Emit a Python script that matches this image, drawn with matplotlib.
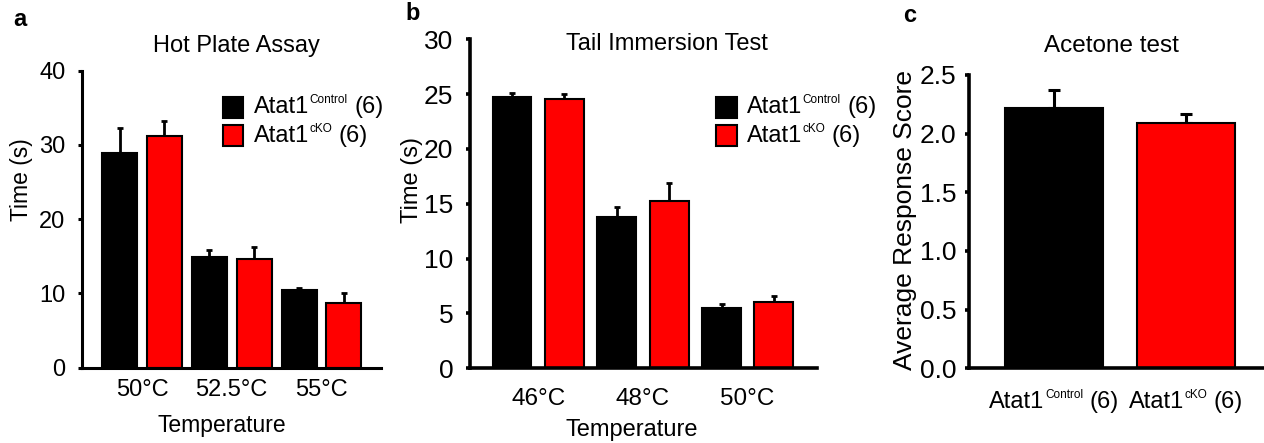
import numpy as np
import matplotlib.pyplot as plt
from matplotlib.patches import Rectangle

plt.rcParams["font.family"] = ["Liberation Sans", "DejaVu Sans"]

# panel a - hot plate
hot_temps = ["50°C", "52.5°C", "55°C"]
hot_ctrl = [28.9, 14.95, 10.5]
hot_ctrl_err = [3.4, 0.85, 0.3]
hot_cko = [31.2, 14.7, 8.75]
hot_cko_err = [2.0, 1.6, 1.25]

# panel b - tail immersion
tail_temps = ["46°C", "48°C", "50°C"]
tail_ctrl = [24.7, 13.8, 5.47]
tail_ctrl_err = [0.4, 0.9, 0.35]
tail_cko = [24.6, 15.3, 6.07]
tail_cko_err = [0.45, 1.6, 0.55]

# panel c - acetone
acetone_mean = [2.22, 2.09]
acetone_err = [0.15, 0.08]

groups = [("Atat1", "Control", "(6)"), ("Atat1", "cKO", "(6)")]
colors = ["black", "#ff0000"]

W, H = 1264, 443
fig = plt.figure(figsize=(W / 100, H / 100), dpi=100)


def px_axes(left, right, top, bottom):
    return fig.add_axes([left / W, 1 - bottom / H, (right - left) / W, (bottom - top) / H])


def sup_text(ax, x, y, base, sup, tail, size, trans):
    t1 = ax.annotate(base, xy=(x, y), xycoords=trans, xytext=(0, 0),
                     textcoords="offset pixels", ha="left", va="baseline",
                     fontsize=size, annotation_clip=False)
    t2 = ax.annotate(sup, xy=(1, 1), xycoords=t1, xytext=(0.5, 1.5),
                     textcoords="offset points", ha="left", va="top",
                     fontsize=size * 0.5, annotation_clip=False)
    t3 = ax.annotate(tail, xy=(1, 0), xycoords=(t2, t1), xytext=(4.5, 0),
                     textcoords="offset points", ha="left", va="bottom",
                     fontsize=size, annotation_clip=False)
    return t1, t3


def style_axes(ax, ytick_size, spine_w):
    for s in ["top", "right"]:
        ax.spines[s].set_visible(False)
    for s in ["left", "bottom"]:
        ax.spines[s].set_linewidth(spine_w)
    ax.tick_params(axis="y", direction="out", length=3, width=spine_w,
                   labelsize=ytick_size, pad=9)
    ax.tick_params(axis="x", length=0)


def grouped(ax, ctrl, ctrl_err, cko, cko_err, width, capsize):
    x = np.arange(len(ctrl))
    for off, vals, errs, col in [(-0.25, ctrl, ctrl_err, colors[0]),
                                 (0.25, cko, cko_err, colors[1])]:
        ax.bar(x + off, vals, width, color=col, edgecolor="black", linewidth=1.5, zorder=2)
        ax.errorbar(x + off, vals, yerr=[np.zeros(len(vals)), errs], fmt="none",
                    ecolor="black", elinewidth=2, capsize=capsize, capthick=2, zorder=1)
    return x


def legend(ax, x0, w, rows, text_x, baselines, size):
    for (y0, y1), (b, s, t), col, bl in zip(rows, groups, colors, baselines):
        ax.add_patch(Rectangle((x0, y0), w, y1 - y0, transform=ax.transAxes,
                               facecolor=col, edgecolor="black", linewidth=1.5,
                               clip_on=False))
        sup_text(ax, text_x, bl, b, s, t, size, ax.transAxes)


# ---- panel a
ax = px_axes(82, 381, 70.7, 367.7)
x = grouped(ax, hot_ctrl, hot_ctrl_err, hot_cko, hot_cko_err, 0.39, 2)
ax.set_xlim(-0.668, 2.663)
ax.set_ylim(0, 40)
ax.set_yticks([0, 10, 20, 30, 40])
ax.set_xticks(x)
ax.set_xticklabels(hot_temps, fontsize=17)
ax.tick_params(axis="x", pad=8)
style_axes(ax, 17, 2.2)
ax.set_title("Hot Plate Assay", x=0.518, y=1.063, va="baseline", fontsize=17, pad=0)
ax.set_xlabel("Temperature", fontsize=16.5)
ax.xaxis.set_label_coords(0.468, -0.193)
ax.xaxis.label.set_va("center")
ax.set_ylabel("Time (s)", fontsize=16.5)
ax.yaxis.set_label_coords(-0.204, 0.632)
ax.yaxis.label.set_va("center")
legend(ax, 0.4716, 0.0669, [(0.841, 0.9114), (0.7465, 0.8165)], 0.575,
       [0.856, 0.761], 17)
fig.text(20 / W, 1 - 20 / H, "a", fontsize=17, fontweight="bold", ha="center", va="center")

# ---- panel b
ax = px_axes(470, 817, 39.3, 368.3)
x = grouped(ax, tail_ctrl, tail_ctrl_err, tail_cko, tail_cko_err, 0.37, 2)
ax.set_xlim(-0.652, 2.662)
ax.set_ylim(0, 30)
ax.set_yticks([0, 5, 10, 15, 20, 25, 30])
ax.set_xticks(x)
ax.set_xticklabels(tail_temps, fontsize=17.5)
ax.tick_params(axis="x", pad=14)
style_axes(ax, 19, 2.6)
ax.set_title("Tail Immersion Test", x=0.568, y=0.9675, va="baseline", fontsize=17, pad=0)
ax.set_xlabel("Temperature", fontsize=17)
ax.xaxis.set_label_coords(0.467, -0.1875)
ax.xaxis.label.set_va("center")
ax.set_ylabel("Time (s)", fontsize=17)
ax.yaxis.set_label_coords(-0.167, 0.572)
ax.yaxis.label.set_va("center")
legend(ax, 0.709, 0.0605, [(0.761, 0.8246), (0.6757, 0.7396)], 0.798,
       [0.775, 0.689], 17)
fig.text(413 / W, 1 - 13 / H, "b", fontsize=17, fontweight="bold", ha="center", va="center")

# ---- panel c
ax = px_axes(969, 1263, 75, 368.3)
xc = np.arange(len(acetone_mean))
ax.bar(xc, acetone_mean, 0.74, color=colors, edgecolor="black", linewidth=1.5, zorder=2)
ax.errorbar(xc, acetone_mean, yerr=[np.zeros(2), acetone_err], fmt="none",
            ecolor="black", elinewidth=2.2, capsize=4, capthick=2.2, zorder=1)
ax.set_xlim(-0.643, 1.583)
ax.set_ylim(0, 2.5)
ax.set_yticks([0, 0.5, 1.0, 1.5, 2.0, 2.5])
ax.set_yticklabels([f"{v:.1f}" for v in [0, 0.5, 1.0, 1.5, 2.0, 2.5]])
ax.set_xticks(xc)
ax.set_xticklabels([])
style_axes(ax, 19, 2.6)
ax.tick_params(axis="y", pad=6)
ax.set_title("Acetone test", x=0.486, y=1.078, va="baseline", fontsize=17.5, pad=0)
ax.set_ylabel("Average Response Score", fontsize=19)
ax.yaxis.set_label_coords(-0.218, 0.506)
ax.yaxis.label.set_va("center")
tick_txt = []
for xi, (b, s, t) in zip(xc, groups):
    tick_txt.append(sup_text(ax, xi, -0.135, b, s, t, 17, ax.get_xaxis_transform()))
fig.text(910 / W, 1 - 15 / H, "c", fontsize=17, fontweight="bold", ha="center", va="center")

# center the composite tick labels under the bars
fig.canvas.draw()
r = fig.canvas.get_renderer()
for t1, t3 in tick_txt:
    w = t3.get_window_extent(r).x1 - t1.get_window_extent(r).x0
    t1.xyann = (-w / 2, 0)

fig.savefig("out.png", dpi=100)
